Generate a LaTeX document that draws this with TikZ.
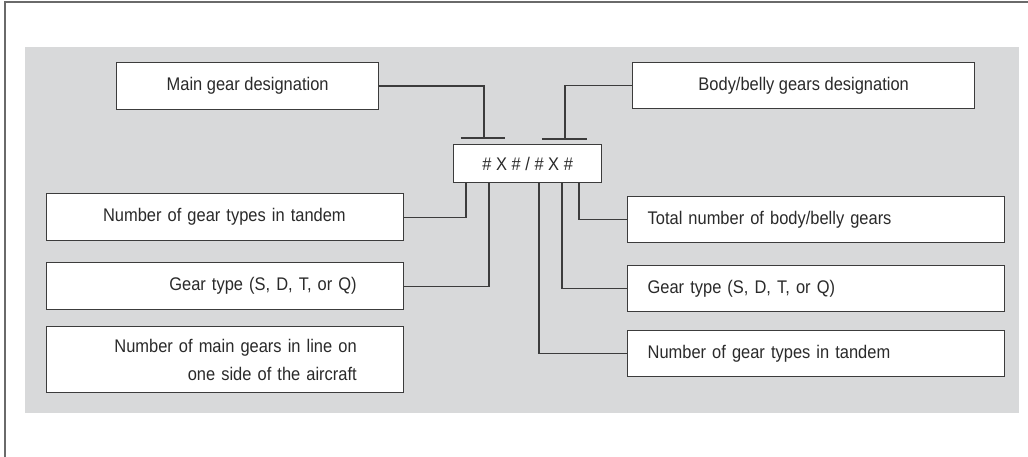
\documentclass[tikz,border=0pt]{standalone}
\usepackage{fontspec}
\setmainfont{Liberation Sans}[FakeStretch=0.9]
\usetikzlibrary{positioning}

\definecolor{panelgray}{HTML}{D8D9DA}
\definecolor{linegray}{HTML}{3C3C3C}
\definecolor{framegray}{HTML}{6A6A6A}
\definecolor{textgray}{HTML}{2A2A2A}

\tikzset{
  gearbox/.style={draw=linegray, line width=0.9pt, fill=white, text=textgray,
    anchor=north west, inner sep=0pt, font=\fontsize{13}{20}\selectfont},
  leftbox/.style={gearbox, text width=6.575cm, inner xsep=1.175cm, align=right},
  rightbox/.style={gearbox, text width=8.425cm, inner xsep=0.5cm, align=left},
  link/.style={draw=linegray, line width=0.9pt},
}

\begin{document}
\begin{tikzpicture}[x=0.025cm, y=-0.025cm]
    \useasboundingbox (0,0) rectangle (1028,457);

    % Draw the frame and the grey panel
    \draw[framegray, line width=0.8pt] (5,457) -- (5,2) -- (1028,2);
    \fill[panelgray] (25,47) rectangle (1019,413);

    % Designation boxes on top and the code in the middle
    \node[gearbox, minimum width=6.55cm, minimum height=1.175cm] (main) at (116,62) {Main gear designation};
    \node[gearbox, minimum width=8.55cm, minimum height=1.15cm] (body) at (632,62) {Body/belly gears designation};
    \node[gearbox, minimum width=3.7cm, minimum height=0.95cm] (code) at (453,144) {\# X \# / \# X \#};

    % Boxes on the left
    \node[leftbox, minimum height=1.175cm] (ltandem) at (46,193) {Number of gear types in tandem\hspace*{0.275cm}};
    \node[leftbox, minimum height=1.175cm] (lgear) at (46,262) {Gear type (S, D, T, or Q)};
    \node[leftbox, minimum height=1.65cm] (lline) at (46,326) {Number of main gears in line on\\one side of the aircraft};

    % Boxes on the right
    \node[rightbox, minimum height=1.15cm] (rtotal) at (627,196) {Total number of body/belly gears};
    \node[rightbox, minimum height=1.15cm] (rgear) at (627,265) {Gear type (S, D, T, or Q)};
    \node[rightbox, minimum height=1.15cm] (rtandem) at (627,330) {Number of gear types in tandem};

    % Leaders from the designation boxes, ending in a bar above the code
    \coordinate (mainT) at (484,138);
    \coordinate (bodyT) at (565,139);
    \draw[link] (main.east) -| (mainT);
    \draw[link] ([xshift=-0.575cm]mainT) -- ([xshift=0.525cm]mainT);
    \draw[link] (body.west) -| (bodyT);
    \draw[link] ([xshift=-0.575cm]bodyT) -- ([xshift=0.55cm]bodyT);

    % Leaders from the code down to the side boxes
    \draw[link] (ltandem.east) -| ([xshift=0.325cm]code.south west);
    \draw[link] (lgear.east) -| ([xshift=0.9cm]code.south west);
    \draw[link] (rtandem.west) -| ([xshift=2.15cm]code.south west);
    \draw[link] (rgear.west) -| ([xshift=2.725cm]code.south west);
    \draw[link] (rtotal.west) -| ([xshift=3.15cm]code.south west);

\end{tikzpicture}
\end{document}
